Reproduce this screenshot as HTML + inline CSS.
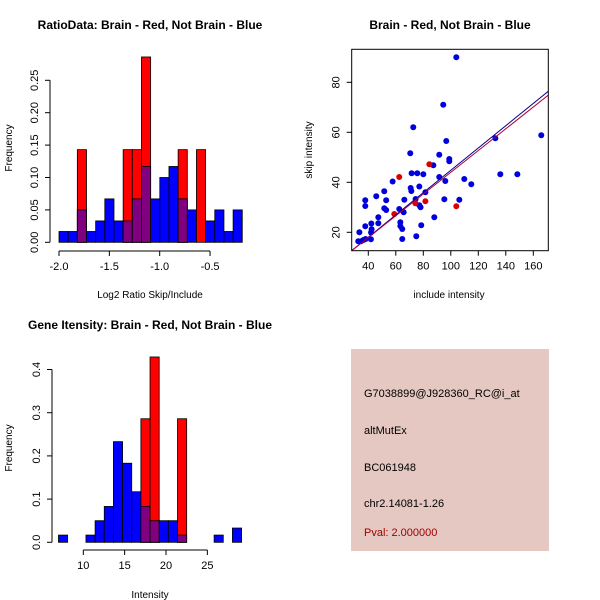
<!DOCTYPE html>
<html><head><meta charset="utf-8"><style>
html,body{margin:0;padding:0;background:#fff;}
svg{display:block;font-family:"Liberation Sans",sans-serif;}
</style></head><body>
<svg id="c" width="600" height="600" xmlns="http://www.w3.org/2000/svg">
<rect x="351" y="349" width="198" height="202" fill="#e5c8c1"/>
<text x="364" y="397" font-size="11">G7038899@J928360_RC@i_at</text>
<text x="364" y="434" font-size="11">altMutEx</text>
<text x="364" y="471" font-size="11">BC061948</text>
<text x="364" y="507" font-size="11">chr2.14081-1.26</text>
<text x="364" y="536" font-size="11" fill="#a00000">Pval: 2.000000</text>
</svg>
<script>
// ---- Histogram 1 data (Log2 ratio) ----
const h1Start = -2.0;
const h1Width = 0.091;
const h1Blue = [0.0167,0.0167,0.05,0.0167,0.033,0.067,0.033,0.033,0.067,0.117,0.067,0.1,0.117,0.067,0.05,0,0.033,0.05,0.0167,0.05];
const h1Red  = [0,0,0.143,0,0,0,0,0.143,0.143,0.286,0,0,0,0.143,0,0.143,0,0,0,0];
const h1XTicks = [-2.0,-1.5,-1.0,-0.5];
const h1XLabels = ["-2.0","-1.5","-1.0","-0.5"];
const h1YTicks = [0,0.05,0.10,0.15,0.20,0.25];
const h1YLabels = ["0.00","0.05","0.10","0.15","0.20","0.25"];
// ---- Histogram 2 data (Intensity) ----
const h2Start = 7.0;
const h2Width = 1.107;
const h2Blue = [0.0167,0,0,0.0167,0.05,0.083,0.233,0.183,0.117,0.083,0.05,0.05,0.05,0.0167,0,0,0,0.0167,0,0.033];
const h2Red  = [0,0,0,0,0,0,0,0,0,0.286,0.429,0,0,0.286,0,0,0,0,0,0];
const h2XTicks = [10,15,20,25];
const h2YTicks = [0,0.1,0.2,0.3,0.4];
const h2YLabels = ["0.0","0.1","0.2","0.3","0.4"];
// ---- Scatter data ----
const blueX = [33.5,32.7,34.7,36.4,38,37.8,37.8,37.8,42,42.2,42.4,41.9,45.8,47.3,47.3,51.6,51.6,53,53,57.7,62.5,63.3,63.3,64.7,64.7,65.7,66.2,70.5,70.8,71.3,71.5,72.7,74.4,74.9,75.6,77.1,77.1,78,78.5,80,81.5,87.3,88,91.6,91.6,94.5,95.3,96,96.7,98.9,98.9,104,106.2,109.8,114.9,132.4,136,148.4,165.8];
const blueY = [20,16.4,16.4,16.9,17.3,22.4,30.5,32.8,19.9,23.5,21.2,17.2,34.4,26,23.6,36.4,29.6,28.9,32.8,40.3,29.3,24,22.5,21.3,17.3,28,33,51.6,37.7,36.5,43.6,62,33.3,18.4,43.6,38.3,30.8,30,22.8,43.2,36,46.8,26,51,42.1,71,33.2,40.5,56.5,49.3,48.4,90,33,41.3,39.2,57.6,43.2,43.2,58.8];
const redX = [58.9,62.5,74.2,81.5,84.4,104];
const redY = [27.3,42.1,31.6,32.4,47.2,30.4];
const fitBlue = [0.2,0.446];
const fitRed = [0.5,0.435];
const scXTicks = [40,60,80,100,120,140,160];
const scYTicks = [20,40,60,80];

const svg = document.getElementById('c');
const NS = 'http://www.w3.org/2000/svg';
function mk(tag, attrs, parent){const e=document.createElementNS(NS,tag);for(const k in attrs)e.setAttribute(k,attrs[k]);(parent||svg).appendChild(e);return e;}
function txt(x,y,s,size,opts){const t=mk('text',Object.assign({x:x,y:y,'font-size':size,'text-anchor':'middle'},opts||{}));t.textContent=s;return t;}

function hist(cfg){
  const g=mk('g',{});
  
  
  const sx=v=>cfg.x0px+(v-cfg.x0)*cfg.kx;
  const sy=v=>cfg.y0px-v*cfg.ky;
  for(let i=0;i<cfg.blue.length;i++){
    const xa=sx(cfg.start+i*cfg.w), xb=sx(cfg.start+(i+1)*cfg.w);
    const b=cfg.blue[i], r=cfg.red[i];
    if(b>0){const e=mk('rect',{x:xa,y:sy(b),width:xb-xa,height:sy(0)-sy(b),fill:'#0000ff',stroke:'#000','stroke-width':0.8},g);
      
      }
    if(r>0){const e=mk('rect',{x:xa,y:sy(r),width:xb-xa,height:sy(0)-sy(r),fill:'#ff0000',stroke:'#000','stroke-width':0.8},g);
      
      }
    if(b>0&&r>0){const m=Math.min(b,r);const e=mk('rect',{x:xa,y:sy(m),width:xb-xa,height:sy(0)-sy(m),fill:'#800080',stroke:'#000','stroke-width':0.8},g);
      
      }
  }
  // y axis
  const ya=mk('g',{});
  
  
  const yt=cfg.yTicks;
  mk('line',{x1:cfg.axX,x2:cfg.axX,y1:sy(yt[0]),y2:sy(yt[yt.length-1]),stroke:'#000'},ya);
  yt.forEach((v,i)=>{mk('line',{x1:cfg.axX-5,x2:cfg.axX,y1:sy(v),y2:sy(v),stroke:'#000'},ya);
    const t=txt(cfg.axX-12,sy(v),cfg.yLabels[i],11,{transform:`rotate(-90 ${cfg.axX-12} ${sy(v)})`});ya.appendChild(t);});
  // x axis
  const xa=mk('g',{});
  
  
  const xt=cfg.xTicks;
  mk('line',{x1:sx(xt[0]),x2:sx(xt[xt.length-1]),y1:cfg.axY,y2:cfg.axY,stroke:'#000'},xa);
  xt.forEach((v,i)=>{mk('line',{x1:sx(v),x2:sx(v),y1:cfg.axY,y2:cfg.axY+5,stroke:'#000'},xa);
    const t=txt(sx(v),cfg.axY+19,cfg.xLabels[i],11);xa.appendChild(t);});
}
hist({name:'ratio-histogram',start:h1Start,w:h1Width,blue:h1Blue,red:h1Red,x0:-2.0,x0px:59,kx:100.7,y0px:242.3,ky:648,
  axX:50,axY:251,yTicks:h1YTicks,yLabels:h1YLabels,xTicks:h1XTicks,xLabels:h1XLabels});
hist({name:'intensity-histogram',start:h2Start,w:h2Width,blue:h2Blue,red:h2Red,x0:10,x0px:83.3,kx:8.27,y0px:542.3,ky:432,
  axX:52,axY:550,yTicks:h2YTicks,yLabels:h2YLabels,xTicks:h2XTicks,xLabels:h2XTicks.map(String)});

// titles & labels
let t;
t=txt(150,29,'RatioData: Brain - Red, Not Brain - Blue',12,{'font-weight':'bold'});


t=txt(450,29,'Brain - Red, Not Brain - Blue',12,{'font-weight':'bold'});


t=txt(150,329,'Gene Itensity: Brain - Red, Not Brain - Blue',12,{'font-weight':'bold'});


t=txt(150,298,'Log2 Ratio Skip/Include',10);


t=txt(150,598,'Intensity',10);


t=txt(12,148,'Frequency',10,{transform:'rotate(-90 12 148)'});


t=txt(12,448,'Frequency',10,{transform:'rotate(-90 12 448)'});


t=txt(449,298,'include intensity',10);


t=txt(312,150,'skip intensity',10,{transform:'rotate(-90 312 150)'});



// scatter
const L=351.7,R=548.3,T=49.3,B=250.7;
const sX=v=>368.3+(v-40)*1.375;
const sY=v=>232.3-(v-20)*2.5;
const sg=mk('g',{});


mk('clipPath',{id:'clp'},sg);
mk('rect',{x:L,y:T,width:R-L,height:B-T},document.getElementById('clp'));
blueX.forEach((x,i)=>{const c=mk('circle',{cx:sX(x),cy:sY(blueY[i]),r:3,fill:'#0000dd'},sg);
  
  });
redX.forEach((x,i)=>{const c=mk('circle',{cx:sX(x),cy:sY(redY[i]),r:3,fill:'#dd0000'},sg);
  
  });
const xmin=27.9,xmax=170.9;
let ln=mk('line',{x1:sX(xmin),y1:sY(fitBlue[0]+fitBlue[1]*xmin),x2:sX(xmax),y2:sY(fitBlue[0]+fitBlue[1]*xmax),stroke:'#00008b','stroke-width':1,'clip-path':'url(#clp)'},sg);


ln=mk('line',{x1:sX(xmin),y1:sY(fitRed[0]+fitRed[1]*xmin),x2:sX(xmax),y2:sY(fitRed[0]+fitRed[1]*xmax),stroke:'#b0003a','stroke-width':1,'clip-path':'url(#clp)'},sg);


const box=mk('rect',{x:L,y:T,width:R-L,height:B-T,fill:'none',stroke:'#000'},sg);


scXTicks.forEach(v=>{mk('line',{x1:sX(v),x2:sX(v),y1:B,y2:B+5,stroke:'#000'},sg);
  const tt=txt(sX(v),B+19,String(v),11);sg.appendChild(tt);});
scYTicks.forEach(v=>{mk('line',{x1:L-5,x2:L,y1:sY(v),y2:sY(v),stroke:'#000'},sg);
  const tt=txt(L-12,sY(v),String(v),11,{transform:`rotate(-90 ${L-12} ${sY(v)})`});sg.appendChild(tt);});
</script>
</body></html>
